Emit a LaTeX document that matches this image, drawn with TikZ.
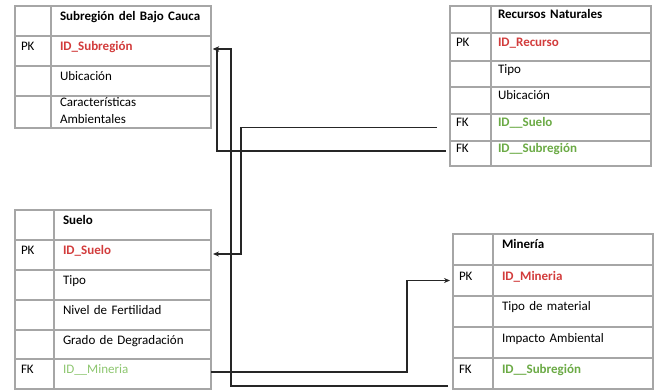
\documentclass[tikz,border=0pt]{standalone}
\usepackage{fontspec}
\setmainfont{Carlito}
\usetikzlibrary{arrows.meta}
\definecolor{rojoPK}{HTML}{D23C3C}
\definecolor{verdeFK}{HTML}{6BAA45}
\definecolor{verdeClaro}{HTML}{8DC66F}
\definecolor{borde}{HTML}{A6A6A6}
\begin{document}
\begin{tikzpicture}[x=1pt, y=-1pt, >={Stealth[length=6pt,width=5pt]},
  font=\fontsize{13}{17}\selectfont,
  celda/.style={draw=borde, line width=1.1pt, anchor=north west, inner ysep=0pt, outer sep=0pt,
    align=left, text height=9pt, text depth=10pt},
  clave/.style={celda, inner xsep=6pt, text width=#1},
  valor/.style={celda, inner xsep=9pt, text width=#1},
  pk/.style={font=\fontsize{13}{17}\selectfont\bfseries, text=rojoPK},
  fk/.style={font=\fontsize{13}{17}\selectfont\bfseries, text=verdeFK},
  titulo/.style={font=\fontsize{13}{17}\selectfont\bfseries},
  enlace/.style={draw=black!85, line width=1.6pt, ->}]
  \useasboundingbox (0,0) rectangle (659,390);

  % Tabla Subregión del Bajo Cauca
  \node[clave=24pt, minimum height=30pt] (sub-hk) at (15,6) {};
  \node[valor=142pt, minimum height=30pt, titulo] (sub-h) at (51,6) {\mbox{Subregión del Bajo Cauca}};
  \node[clave=24pt, minimum height=30pt] (sub-pkk) at (15,36) {PK};
  \node[valor=142pt, minimum height=30pt, pk] (sub-pk) at (51,36) {ID\_Subregión};
  \node[clave=24pt, minimum height=30pt] (sub-ubik) at (15,66) {};
  \node[valor=142pt, minimum height=30pt] (sub-ubi) at (51,66) {Ubicación};
  \node[clave=24pt, minimum height=32pt] (sub-cark) at (15,96) {};
  \node[valor=142pt, minimum height=32pt, text depth=19pt] (sub-car) at (51,96) {Características\\Ambientales};

  % Tabla Recursos Naturales
  \node[clave=29pt, minimum height=27pt] (rec-hk) at (450,6) {};
  \node[valor=146pt, minimum height=27pt, titulo, inner xsep=7pt] (rec-h) at (491,6) {Recursos Naturales};
  \node[clave=29pt, minimum height=28pt] (rec-pkk) at (450,33) {PK};
  \node[valor=146pt, minimum height=28pt, pk, inner xsep=7pt] (rec-pk) at (491,33) {ID\_Recurso};
  \node[clave=29pt, minimum height=26pt] (rec-tipok) at (450,61) {};
  \node[valor=146pt, minimum height=26pt, inner xsep=7pt] (rec-tipo) at (491,61) {Tipo};
  \node[clave=29pt, minimum height=27pt] (rec-ubik) at (450,87) {};
  \node[valor=146pt, minimum height=27pt, inner xsep=7pt] (rec-ubi) at (491,87) {Ubicación};
  \node[clave=29pt, minimum height=27pt] (rec-fksk) at (450,114) {FK};
  \node[valor=146pt, minimum height=27pt, fk, inner xsep=7pt] (rec-fks) at (491,114) {ID\_\_Suelo};
  \node[clave=29pt, minimum height=25pt] (rec-fkrk) at (450,141) {FK};
  \node[valor=146pt, minimum height=25pt, fk, inner xsep=7pt] (rec-fkr) at (491,141) {ID\_\_Subregión};

  % Tabla Suelo
  \node[clave=27pt, minimum height=30pt] (sue-hk) at (15,210) {};
  \node[valor=139pt, minimum height=30pt, titulo] (sue-h) at (54,210) {Suelo};
  \node[clave=27pt, minimum height=30pt] (sue-pkk) at (15,240) {PK};
  \node[valor=139pt, minimum height=30pt, pk] (sue-pk) at (54,240) {ID\_Suelo};
  \node[clave=27pt, minimum height=30pt] (sue-tipok) at (15,270) {};
  \node[valor=139pt, minimum height=30pt] (sue-tipo) at (54,270) {Tipo};
  \node[clave=27pt, minimum height=30pt] (sue-fertk) at (15,300) {};
  \node[valor=139pt, minimum height=30pt] (sue-fert) at (54,300) {Nivel de Fertilidad};
  \node[clave=27pt, minimum height=29pt] (sue-degk) at (15,330) {};
  \node[valor=139pt, minimum height=29pt] (sue-deg) at (54,330) {Grado de Degradación};
  \node[clave=27pt, minimum height=30pt] (sue-fkk) at (15,359) {FK};
  \node[valor=139pt, minimum height=30pt, text=verdeClaro] (sue-fk) at (54,359) {ID\_\_Mineria};

  % Tabla Minería
  \node[clave=28pt, minimum height=31pt] (min-hk) at (453,234) {};
  \node[valor=142pt, minimum height=31pt, titulo] (min-h) at (493,234) {Minería};
  \node[clave=28pt, minimum height=31pt] (min-pkk) at (453,265) {PK};
  \node[valor=142pt, minimum height=31pt, pk] (min-pk) at (493,265) {ID\_Mineria};
  \node[clave=28pt, minimum height=31pt] (min-tipok) at (453,296) {};
  \node[valor=142pt, minimum height=31pt] (min-tipo) at (493,296) {Tipo de material};
  \node[clave=28pt, minimum height=31pt] (min-impk) at (453,327) {};
  \node[valor=142pt, minimum height=31pt] (min-imp) at (493,327) {Impacto Ambiental};
  \node[clave=28pt, minimum height=31pt] (min-fkk) at (453,358) {FK};
  \node[valor=142pt, minimum height=31pt, fk] (min-fk) at (493,358) {ID\_\_Subregión};

  % Relaciones
  \draw[enlace] ([xshift=-4pt,yshift=2.5pt]rec-fkrk.west) -| ([xshift=6pt,yshift=2pt]sub-pk.east) -- ([xshift=2pt,yshift=2pt]sub-pk.east);
  \draw[enlace] ([xshift=-5pt,yshift=-12.5pt]min-fkk.west) -| ([xshift=20pt,yshift=2pt]sub-pk.east) -- ([xshift=2pt,yshift=2pt]sub-pk.east);
  \draw[enlace] ([xshift=-13pt]rec-fksk.west) -| ([xshift=30pt,yshift=1pt]sue-pk.east) -- ([xshift=2pt,yshift=1pt]sue-pk.east);
  \draw[enlace] ([yshift=2pt]sue-fk.east) -| ([xshift=-46pt]min-pkk.west) -- ([xshift=-3pt]min-pkk.west);
\end{tikzpicture}
\end{document}
